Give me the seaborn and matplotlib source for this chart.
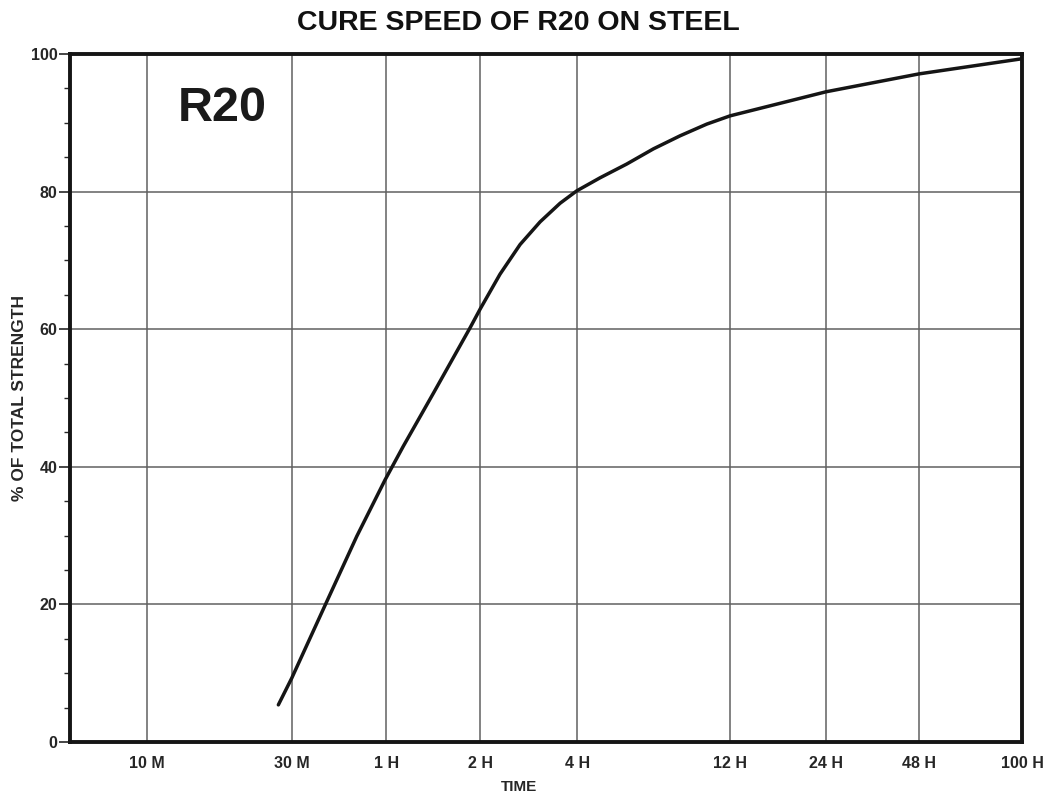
import numpy as np
import pandas as pd
import seaborn as sns
import matplotlib.pyplot as plt
from matplotlib.ticker import FixedLocator, MultipleLocator

# Time in hours vs % of total strength
hours = [0.4507, 0.499, 0.6457, 0.8058, 0.9927, 1.136, 1.418, 1.858, 2.0, 2.307,
         2.662, 3.072, 3.543, 3.991, 4.719, 5.715, 6.918, 8.380, 10.15, 12.0,
         24.0, 48.0, 100.0]
strength = [5.4, 9.3, 20.4, 29.9, 38.1, 43.0, 50.7, 60.2, 62.9, 68.0,
            72.3, 75.6, 78.3, 80.1, 82.0, 84.0, 86.2, 88.1, 89.8, 91.0,
            94.5, 97.1, 99.3]

tick_hours = [1 / 6, 0.5, 1, 2, 4, 12, 24, 48, 100]
tick_labels = ['10 M', '30 M', '1 H', '2 H', '4 H', '12 H', '24 H', '48 H', '100 H']

# the printed time axis is only roughly logarithmic: spacing of the ticks
# along the axis as drawn on the original sheet
tick_spacing = [147, 292, 386, 480, 577, 730, 826, 919, 1022]

lt = np.log10(tick_hours)
sp = np.array(tick_spacing, dtype=float)
# extend both ends linearly so limits outside the ticks still map
lo_slope = (sp[1] - sp[0]) / (lt[1] - lt[0])
hi_slope = (sp[-1] - sp[-2]) / (lt[-1] - lt[-2])
lt_ext = np.concatenate([[lt[0] - 3], lt, [lt[-1] + 3]])
sp_ext = np.concatenate([[sp[0] - 3 * lo_slope], sp, [sp[-1] + 3 * hi_slope]])


def fwd(h):
    h = np.clip(np.asarray(h, dtype=float), 1e-6, None)
    return np.interp(np.log10(h), lt_ext, sp_ext)


def inv(p):
    return 10 ** np.interp(np.asarray(p, dtype=float), sp_ext, lt_ext)


sns.set_style('white')
plt.rcParams['font.family'] = ['Liberation Sans', 'DejaVu Sans']

df = pd.DataFrame({'hours': hours, 'strength': strength})

fig = plt.figure(figsize=(10.55, 7.93), dpi=100)
ax = fig.add_axes([0.0664, 0.0643, 0.9024, 0.8677])

ax.set_xscale('function', functions=(fwd, inv))
ax.set_xlim(inv(70), 100)
ax.set_ylim(0, 100)

# grid
for h in tick_hours[:-1]:
    ax.axvline(h, color='#606060', lw=1.1, zorder=1)
for v in [20, 40, 60, 80]:
    ax.axhline(v, color='#606060', lw=1.1, zorder=1)

sns.lineplot(data=df, x='hours', y='strength', ax=ax, color='#151515', lw=2.5, zorder=3)

ax.xaxis.set_major_locator(FixedLocator(tick_hours))
ax.xaxis.set_minor_locator(FixedLocator([]))
ax.set_xticklabels(tick_labels, fontweight='bold', fontsize=11.5)
ax.tick_params(axis='x', length=0, pad=10)

ax.yaxis.set_major_locator(MultipleLocator(20))
ax.yaxis.set_minor_locator(MultipleLocator(5))
ax.tick_params(axis='y', which='major', length=8, width=1.2, direction='out', left=True, labelsize=11.5, pad=1)
ax.tick_params(axis='y', which='minor', length=4, width=1.0, direction='out', left=True)
for lab in ax.get_yticklabels():
    lab.set_fontweight('bold')

for s in ax.spines.values():
    s.set_visible(True)
    s.set_color('#151515')
    s.set_linewidth(2.8)

ax.set_xlabel('TIME', fontweight='bold', fontsize=11, va='center')
ax.xaxis.set_label_coords(0.472, -0.065)
ax.set_ylabel('% OF TOTAL STRENGTH', fontweight='bold', fontsize=12.5, va='center')
ax.yaxis.set_label_coords(-0.053, 0.5)

fig.text(0.491, 0.971, 'CURE SPEED OF R20 ON STEEL', ha='center', va='center',
         fontweight='bold', fontsize=20.5, color='#111111')
ax.text(0.113, 0.92, 'R20', transform=ax.transAxes, ha='left', va='center',
        fontweight='bold', fontsize=35, color='#1a1a1a')

fig.savefig('out.png', dpi=100)
